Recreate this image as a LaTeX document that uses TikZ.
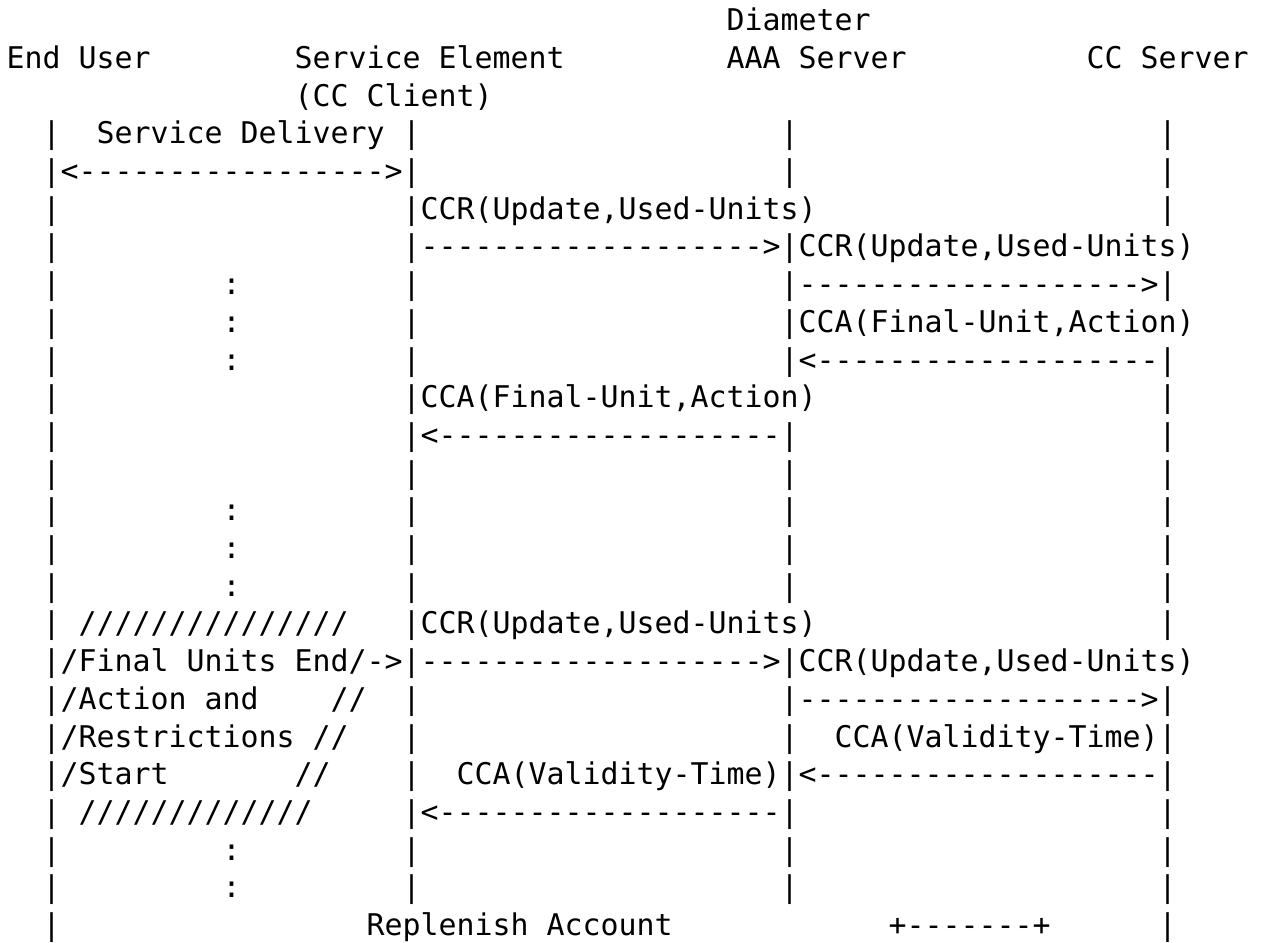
\documentclass[tikz,border=0pt]{standalone}
\usepackage{fontspec}
\setmonofont{DejaVu Sans Mono}
\newcommand\asciifont{\ttfamily\fontsize{29.9pt}{37.7pt}\selectfont}
\ExplSyntaxOn
\NewDocumentCommand\reprun{mm}{\prg_replicate:nn{#1}{#2\kern0pt}}
\ExplSyntaxOff
\tikzset{txt/.style={anchor=base west, inner sep=0pt, outer sep=0pt, font=\asciifont, text=black}}
\newcommand\putseg[3]{\node[txt] (r#2c#1) at ({6.7+18*#1},{7-37.7*#2}) {#3};}
\newcommand\lifebars[1]{\putseg{2}{#1}{|}\putseg{22}{#1}{|}\putseg{43}{#1}{|}\putseg{64}{#1}{|}}
\begin{document}
\begin{tikzpicture}[x=1pt,y=1pt]
\fill[white] (0,0) rectangle (1268,-942);
\useasboundingbox (0,0) rectangle (1268,-942);
% header
\putseg{40}{1}{Diameter}
\putseg{0}{2}{End User}
\putseg{16}{2}{Service Element}
\putseg{40}{2}{AAA Server}
\putseg{60}{2}{CC Server}
\putseg{16}{3}{(CC Client)}
% row 4
\lifebars{4}
\putseg{5}{4}{Service Delivery}
% row 5
\putseg{2}{5}{|<\reprun{17}{-}>|}
\putseg{43}{5}{|}\putseg{64}{5}{|}
% row 6
\putseg{2}{6}{|}
\putseg{22}{6}{|CCR(Update,Used-Units)}
\putseg{64}{6}{|}
% row 7
\putseg{2}{7}{|}
\putseg{22}{7}{|\reprun{19}{-}>|CCR(Update,Used-Units)}
% row 8
\putseg{2}{8}{|}\putseg{12}{8}{:}\putseg{22}{8}{|}
\putseg{43}{8}{|\reprun{19}{-}>|}
% row 9
\putseg{2}{9}{|}\putseg{12}{9}{:}\putseg{22}{9}{|}
\putseg{43}{9}{|CCA(Final-Unit,Action)}
% row 10
\putseg{2}{10}{|}\putseg{12}{10}{:}\putseg{22}{10}{|}
\putseg{43}{10}{|<\reprun{19}{-}|}
% row 11
\putseg{2}{11}{|}
\putseg{22}{11}{|CCA(Final-Unit,Action)}
\putseg{64}{11}{|}
% row 12
\putseg{2}{12}{|}
\putseg{22}{12}{|<\reprun{19}{-}|}
\putseg{64}{12}{|}
% row 13-16
\lifebars{13}
\lifebars{14}\putseg{12}{14}{:}
\lifebars{15}\putseg{12}{15}{:}
\lifebars{16}\putseg{12}{16}{:}
% row 17
\putseg{2}{17}{|}
\putseg{4}{17}{\reprun{15}{/}}
\putseg{22}{17}{|CCR(Update,Used-Units)}
\putseg{64}{17}{|}
% row 18
\putseg{2}{18}{|/Final Units End/->|\reprun{19}{-}>|CCR(Update,Used-Units)}
% row 19
\putseg{2}{19}{|}
\putseg{3}{19}{/Action and}
\putseg{18}{19}{//}
\putseg{22}{19}{|}
\putseg{43}{19}{|\reprun{19}{-}>|}
% row 20
\putseg{2}{20}{|}
\putseg{3}{20}{/Restrictions}
\putseg{17}{20}{//}
\putseg{22}{20}{|}
\putseg{43}{20}{|}
\putseg{46}{20}{CCA(Validity-Time)|}
% row 21
\putseg{2}{21}{|}
\putseg{3}{21}{/Start}
\putseg{16}{21}{//}
\putseg{22}{21}{|}
\putseg{25}{21}{CCA(Validity-Time)|<\reprun{19}{-}|}
% row 22
\putseg{2}{22}{|}
\putseg{4}{22}{\reprun{13}{/}}
\putseg{22}{22}{|<\reprun{19}{-}|}
\putseg{64}{22}{|}
% rows 23-24
\lifebars{23}\putseg{12}{23}{:}
\lifebars{24}\putseg{12}{24}{:}
% row 25
\putseg{2}{25}{|}
\putseg{20}{25}{Replenish Account}
\putseg{49}{25}{+\reprun{7}{-}+}
\putseg{64}{25}{|}
\end{tikzpicture}
\end{document}
